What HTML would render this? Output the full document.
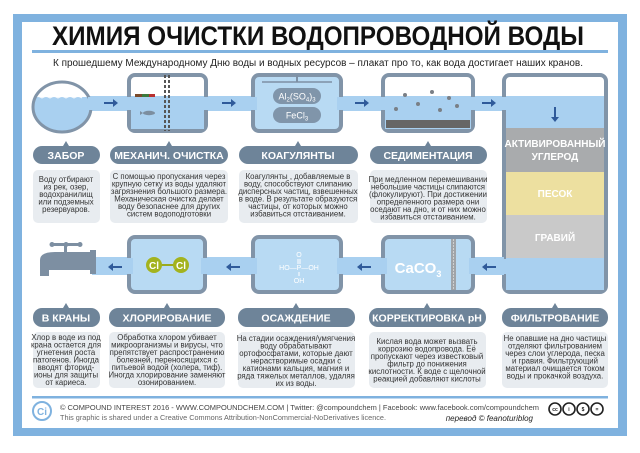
<!DOCTYPE html>
<html><head><meta charset="utf-8"><style>
html,body{margin:0;padding:0;background:#fff;}
svg{display:block;}
text{font-family:"Liberation Sans","DejaVu Sans",sans-serif;}
.p{font-size:10.5px;font-weight:bold;fill:#fff;text-anchor:middle;}
.b{font-size:7.8px;fill:#333;text-anchor:middle;}
.f{font-size:10px;font-weight:bold;fill:#fff;text-anchor:middle;}
</style></head><body>
<svg width="640" height="453" viewBox="0 0 640 453" xmlns="http://www.w3.org/2000/svg">
<rect x="13" y="14" width="614" height="422" fill="#7fb2df"/>
<rect x="22" y="22" width="596" height="406" fill="#fff"/>
<text x="318" y="45" font-size="27" font-weight="bold" fill="#111" text-anchor="middle" textLength="532" lengthAdjust="spacingAndGlyphs">ХИМИЯ ОЧИСТКИ ВОДОПРОВОДНОЙ ВОДЫ</text>
<rect x="32" y="50" width="576" height="3" fill="#7fb2df"/>
<text x="318" y="66" font-size="10" fill="#222" text-anchor="middle" textLength="530" lengthAdjust="spacingAndGlyphs">К прошедшему Международному Дню воды и водных ресурсов – плакат про то, как вода достигает наших кранов.</text>

<!-- top pipe -->
<rect x="60" y="96" width="450" height="15" fill="#a9d0f0"/>
<!-- intake circle -->
<clipPath id="cc"><ellipse cx="62" cy="107" rx="29" ry="25"/></clipPath>
<ellipse cx="62" cy="107" rx="29" ry="25" fill="#fff"/>
<rect x="30" y="97" width="70" height="45" fill="#a9d0f0" clip-path="url(#cc)"/>
<path d="M34 98 q4 -3 8 0 q4 -3 8 0 q4 -3 8 0 q4 -3 8 0 q4 -3 8 0 q4 -3 8 0" fill="none" stroke="#fff" stroke-width="1"/>
<ellipse cx="62" cy="107" rx="29" ry="25" fill="none" stroke="#8194a8" stroke-width="3"/>
<rect x="88" y="97" width="6" height="13" fill="#a9d0f0"/>
<!-- tank2 -->
<rect x="129" y="75" width="77" height="56" rx="6" fill="#fff" stroke="#8194a8" stroke-width="4"/>
<rect x="131" y="96" width="73" height="33" fill="#a9d0f0"/>
<rect x="125" y="97" width="8" height="13" fill="#a9d0f0"/>
<rect x="202" y="97" width="8" height="13" fill="#a9d0f0"/>
<rect x="135" y="94" width="7" height="3" fill="#7a4a2a"/><rect x="142" y="94" width="7" height="3" fill="#3c7a3c"/><rect x="149" y="94" width="6" height="3" fill="#b83030"/>
<ellipse cx="149" cy="113" rx="6" ry="2.2" fill="#7c8ea0"/><path d="M143 113 l-3 -2 v4z" fill="#7c8ea0"/>
<line x1="165" y1="75" x2="165" y2="131" stroke="#555" stroke-width="2" stroke-dasharray="3,2"/>
<line x1="169" y1="75" x2="169" y2="131" stroke="#555" stroke-width="2" stroke-dasharray="3,2"/>
<!-- tank3 -->
<rect x="253" y="75" width="88" height="56" rx="6" fill="#b8daf3" stroke="#8194a8" stroke-width="4"/>
<rect x="249" y="97" width="8" height="13" fill="#a9d0f0"/><rect x="337" y="97" width="8" height="13" fill="#a9d0f0"/>
<line x1="262" y1="82" x2="332" y2="82" stroke="#7d90a4" stroke-width="1.5"/><rect x="296" y="75" width="2" height="7" fill="#7d90a4"/>
<rect x="273" y="88" width="48" height="16" rx="8" fill="#8095aa"/>
<text x="297" y="99.5" font-size="9" fill="#fff" text-anchor="middle">Al<tspan font-size="6" dy="2">2</tspan><tspan dy="-2">(SO</tspan><tspan font-size="6" dy="2">4</tspan><tspan dy="-2">)</tspan><tspan font-size="6" dy="2">3</tspan></text>
<rect x="273" y="107" width="48" height="16" rx="8" fill="#8095aa"/>
<text x="297" y="118.5" font-size="9" fill="#fff" text-anchor="middle">FeCl<tspan font-size="6" dy="2">3</tspan></text>
<!-- tank4 -->
<rect x="383" y="75" width="90" height="56" rx="6" fill="#fff" stroke="#8194a8" stroke-width="4"/>
<rect x="385" y="96" width="86" height="33" fill="#a9d0f0"/>
<rect x="379" y="97" width="8" height="13" fill="#a9d0f0"/><rect x="469" y="97" width="8" height="13" fill="#a9d0f0"/>
<rect x="386" y="120" width="84" height="8" fill="#666"/>
<g fill="#7a7f86"><circle cx="405" cy="95" r="2"/><circle cx="418" cy="104" r="2"/><circle cx="432" cy="92" r="2"/><circle cx="449" cy="98" r="2"/><circle cx="440" cy="110" r="2"/><circle cx="457" cy="106" r="2"/><circle cx="396" cy="109" r="2"/></g>
<!-- arrows top -->
<g fill="#2f5a9a"><path d="M104 102 h9 v-3 l5 4 l-5 4 v-3 h-9z"/><path d="M222 102 h9 v-3 l5 4 l-5 4 v-3 h-9z"/><path d="M355 102 h9 v-3 l5 4 l-5 4 v-3 h-9z"/><path d="M482 102 h9 v-3 l5 4 l-5 4 v-3 h-9z"/></g>

<!-- filter column -->
<rect x="504" y="75" width="102" height="217" rx="6" fill="#fff" stroke="#8194a8" stroke-width="4"/>
<rect x="506" y="96" width="98" height="32" fill="#a9d0f0"/>
<rect x="500" y="97" width="8" height="13" fill="#a9d0f0"/>
<rect x="506" y="128" width="98" height="44" fill="#a9abad"/>
<rect x="506" y="172" width="98" height="43" fill="#ede0a0"/>
<rect x="506" y="215" width="98" height="43" fill="#c9c9c9"/>
<rect x="506" y="258" width="98" height="32" fill="#a9d0f0"/>
<rect x="500" y="259" width="8" height="15" fill="#a9d0f0"/>
<path d="M554 107 v10 h-3 l4 5 l4 -5 h-3 v-10z" fill="#2f5a9a"/>
<text class="f" x="555" y="147">АКТИВИРОВАННЫЙ</text>
<text class="f" x="555" y="160">УГЛЕРОД</text>
<text class="f" x="555" y="197">ПЕСОК</text>
<text class="f" x="555" y="241">ГРАВИЙ</text>

<!-- top pills -->
<g fill="#6e8499">
<rect x="33" y="146" width="67" height="18" rx="9"/><path d="M63 146 l3 -5 l3 5z"/>
<rect x="110" y="146" width="118" height="18" rx="9"/><path d="M166 146 l3 -5 l3 5z"/>
<rect x="239" y="146" width="119" height="18" rx="9"/><path d="M295 146 l3 -5 l3 5z"/>
<rect x="370" y="146" width="117" height="18" rx="9"/><path d="M425 146 l3 -5 l3 5z"/>
</g>
<text class="p" x="66" y="159">ЗАБОР</text>
<text class="p" x="169" y="159">МЕХАНИЧ. ОЧИСТКА</text>
<text class="p" x="298" y="159">КОАГУЛЯНТЫ</text>
<text class="p" x="428" y="159">СЕДИМЕНТАЦИЯ</text>
<g fill="#e8ecf0">
<rect x="33" y="170" width="67" height="53" rx="5"/>
<rect x="110" y="170" width="118" height="53" rx="5"/>
<rect x="239" y="170" width="119" height="53" rx="5"/>
<rect x="370" y="170" width="117" height="53" rx="5"/>
</g>
<text class="b" x="66" y="182">Воду отбирают</text><text class="b" x="66" y="189.5">из рек, озер,</text><text class="b" x="66" y="197">водохранилищ</text><text class="b" x="66" y="204.5">или подземных</text><text class="b" x="66" y="212">резервуаров.</text>
<text class="b" x="169" y="179">С помощью пропускания через</text><text class="b" x="169" y="186.5">крупную сетку из воды удаляют</text><text class="b" x="169" y="194">загрязнения большого размера.</text><text class="b" x="169" y="201.5">Механическая очистка делает</text><text class="b" x="169" y="209">воду безопаснее для других</text><text class="b" x="169" y="216.5">систем водоподготовки</text>
<text class="b" x="298" y="179">Коагулянты , добавляемые в</text><text class="b" x="298" y="186.5">воду, способствуют слипанию</text><text class="b" x="298" y="194">дисперсных частиц, взвешенных</text><text class="b" x="298" y="201.5">в воде. В результате  образуются</text><text class="b" x="298" y="209">частицы, от которых можно</text><text class="b" x="298" y="216.5">избавиться отстаиванием.</text>
<text class="b" x="428" y="182">При медленном перемешивании</text><text class="b" x="428" y="189.5">небольшие частицы слипаются</text><text class="b" x="428" y="197">(флокулируют). При достижении</text><text class="b" x="428" y="204.5">определенного размера они</text><text class="b" x="428" y="212">оседают на дно, и от них можно</text><text class="b" x="428" y="219.5">избавиться отстаиванием.</text>

<!-- bottom pipe -->
<rect x="92" y="257" width="412" height="18" fill="#a9d0f0"/>
<!-- tap -->
<g fill="#7d8fa2">
<rect x="55" y="252" width="40" height="18"/>
<rect x="90" y="250" width="6" height="24"/>
<path d="M40 260 q0 -8 15 -8 v18 h-6 v6 h-9z"/>
<rect x="64" y="246" width="3" height="6"/>
<rect x="52" y="243" width="28" height="3" rx="1.5"/>
<circle cx="52" cy="244.5" r="2.5"/><circle cx="80" cy="244.5" r="2.5"/><circle cx="66" cy="244.5" r="2.5"/>
</g>
<!-- Cl tank -->
<rect x="129" y="237" width="76" height="55" rx="6" fill="#b8daf3" stroke="#8194a8" stroke-width="4"/>
<rect x="125" y="258" width="8" height="16" fill="#a9d0f0"/><rect x="201" y="258" width="8" height="16" fill="#a9d0f0"/>
<line x1="154" y1="265" x2="181" y2="265" stroke="#9aaa1e" stroke-width="2"/>
<circle cx="154" cy="265" r="8" fill="#a3b31e"/><circle cx="181" cy="265" r="8" fill="#a3b31e"/>
<text x="154" y="269" font-size="10" font-weight="bold" fill="#fff" text-anchor="middle">Cl</text>
<text x="181" y="269" font-size="10" font-weight="bold" fill="#fff" text-anchor="middle">Cl</text>
<!-- phosphate tank -->
<rect x="253" y="237" width="88" height="55" rx="6" fill="#b8daf3" stroke="#8194a8" stroke-width="4"/>
<rect x="249" y="258" width="8" height="16" fill="#a9d0f0"/><rect x="337" y="258" width="8" height="16" fill="#a9d0f0"/>
<g font-size="7" fill="#fff" text-anchor="middle"><text x="299" y="257">O</text><text x="299" y="270">HO—P—OH</text><text x="299" y="283">OH</text></g>
<line x1="298" y1="259" x2="298" y2="264" stroke="#fff"/><line x1="300" y1="259" x2="300" y2="264" stroke="#fff"/><line x1="299" y1="272" x2="299" y2="276" stroke="#fff"/>
<!-- CaCO3 tank -->
<rect x="383" y="237" width="90" height="55" rx="6" fill="#b8daf3" stroke="#8194a8" stroke-width="4"/>
<rect x="379" y="258" width="8" height="16" fill="#a9d0f0"/><rect x="469" y="258" width="8" height="16" fill="#a9d0f0"/>
<rect x="451" y="239" width="5" height="51" fill="#a0a4a8"/>
<line x1="453.5" y1="239" x2="453.5" y2="290" stroke="#d0d0d0" stroke-dasharray="2,1"/>
<text x="418" y="273" font-size="15" font-weight="bold" fill="#fff" text-anchor="middle">CaCO<tspan font-size="9" dy="4">3</tspan></text>
<!-- arrows bottom -->
<g fill="#2f5a9a"><path d="M122 266 h-9 v-3 l-5 4 l5 4 v-3 h9z"/><path d="M240 266 h-9 v-3 l-5 4 l5 4 v-3 h9z"/><path d="M371 266 h-9 v-3 l-5 4 l5 4 v-3 h9z"/><path d="M496 266 h-9 v-3 l-5 4 l5 4 v-3 h9z"/></g>

<!-- bottom pills -->
<g fill="#6e8499">
<rect x="33" y="308" width="67" height="19" rx="9"/><path d="M63 308 l3 -5 l3 5z"/>
<rect x="109" y="308" width="116" height="19" rx="9"/><path d="M164 308 l3 -5 l3 5z"/>
<rect x="238" y="308" width="117" height="19" rx="9"/><path d="M293 308 l3 -5 l3 5z"/>
<rect x="369" y="308" width="117" height="19" rx="9"/><path d="M424 308 l3 -5 l3 5z"/>
<rect x="502" y="308" width="106" height="19" rx="9"/><path d="M552 308 l3 -5 l3 5z"/>
</g>
<text class="p" x="66" y="321.5">В КРАНЫ</text>
<text class="p" x="167" y="321.5">ХЛОРИРОВАНИЕ</text>
<text class="p" x="296" y="321.5">ОСАЖДЕНИЕ</text>
<text class="p" x="427" y="321.5">КОРРЕКТИРОВКА pH</text>
<text class="p" x="555" y="321.5">ФИЛЬТРОВАНИЕ</text>
<g fill="#e8ecf0">
<rect x="33" y="332" width="67" height="56" rx="5"/>
<rect x="109" y="332" width="116" height="56" rx="5"/>
<rect x="238" y="332" width="117" height="56" rx="5"/>
<rect x="369" y="332" width="117" height="56" rx="5"/>
<rect x="502" y="332" width="106" height="56" rx="5"/>
</g>
<text class="b" x="66" y="340">Хлор в воде из под</text><text class="b" x="66" y="347.5">крана остается для</text><text class="b" x="66" y="355">угнетения роста</text><text class="b" x="66" y="362.5">патогенов. Иногда</text><text class="b" x="66" y="370">вводят фторид-</text><text class="b" x="66" y="377.5">ионы для защиты</text><text class="b" x="66" y="385">от кариеса.</text>
<text class="b" x="167" y="340">Обработка хлором убивает</text><text class="b" x="167" y="347.5">микроорганизмы  и вирусы, что</text><text class="b" x="167" y="355">препятствует распространению</text><text class="b" x="167" y="362.5">болезней, переносящихся с</text><text class="b" x="167" y="370">питьевой водой (холера, тиф).</text><text class="b" x="167" y="377.5">Иногда хлорирование заменяют</text><text class="b" x="167" y="385">озонированием.</text>
<text class="b" x="296" y="341">На стадии осаждения/умягчения</text><text class="b" x="296" y="348.5">воду обрабатывают</text><text class="b" x="296" y="356">ортофосфатами, которые  дают</text><text class="b" x="296" y="363.5">нерастворимые осадки с</text><text class="b" x="296" y="371">катионами кальция, магния и</text><text class="b" x="296" y="378.5">ряда тяжелых металлов, удаляя</text><text class="b" x="296" y="386">их из воды.</text>
<text class="b" x="427" y="344">Кислая вода может вызвать</text><text class="b" x="427" y="351.5">коррозию водопровода. Её</text><text class="b" x="427" y="359">пропускают через известковый</text><text class="b" x="427" y="366.5">фильтр до понижения</text><text class="b" x="427" y="374">кислотности. К воде с щелочной</text><text class="b" x="427" y="381.5">реакцией добавляют кислоты</text>
<text class="b" x="555" y="341">Не опавшие на дно частицы</text><text class="b" x="555" y="348.5">отделяют фильтрованием</text><text class="b" x="555" y="356">через слои углерода, песка</text><text class="b" x="555" y="363.5">и гравия. Фильтрующий</text><text class="b" x="555" y="371">материал очищается током</text><text class="b" x="555" y="378.5">воды и прокачкой воздуха.</text>

<!-- footer -->
<rect x="32" y="396" width="576" height="2.5" fill="#7fb2df"/>
<circle cx="42" cy="411" r="9" fill="#fff" stroke="#7fb2df" stroke-width="2"/>
<text x="42" y="415" font-size="10" font-weight="bold" fill="#7fb2df" text-anchor="middle">Ci</text>
<text x="60" y="410" font-size="7.5" fill="#444" textLength="479" lengthAdjust="spacingAndGlyphs">© COMPOUND INTEREST 2016 - WWW.COMPOUNDCHEM.COM | Twitter: @compoundchem | Facebook: www.facebook.com/compoundchem</text>
<text x="60" y="420" font-size="7.5" fill="#666" textLength="326" lengthAdjust="spacingAndGlyphs">This graphic is shared under a Creative Commons Attribution-NonCommercial-NoDerivatives licence.</text>
<text x="533" y="421" font-size="8" font-style="italic" fill="#222" text-anchor="end">перевод © feanoturiblog</text>
<g fill="#fff" stroke="#222" stroke-width="1.6">
<circle cx="555" cy="409" r="6"/><circle cx="569" cy="409" r="6"/><circle cx="583" cy="409" r="6"/><circle cx="597" cy="409" r="6"/>
</g>
<g font-size="5" font-weight="bold" fill="#222" text-anchor="middle"><text x="555" y="411">cc</text><text x="569" y="411">i</text><text x="583" y="411">$</text><text x="597" y="411">=</text></g>
</svg>
</body></html>
